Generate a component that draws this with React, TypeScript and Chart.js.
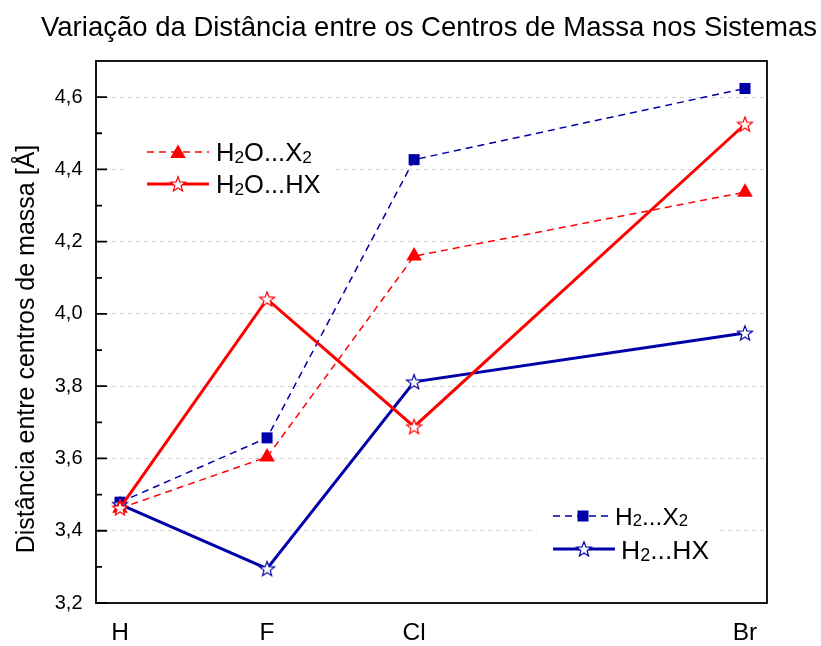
import { useEffect, useRef } from 'react';
import { Chart, registerables } from 'chart.js';

Chart.register(...registerables);

// Halogen (X) of each system and its atomic number, used as the x position
const elements = ['H', 'F', 'Cl', 'Br'];
const atomicNumbers = [1, 9, 17, 35];

// Centre-of-mass distances [Å]
const h2oX2 = [3.462, 3.604, 4.16, 4.337];
const h2oHX = [3.463, 4.041, 3.688, 4.525];
const h2X2 = [3.479, 3.657, 4.427, 4.624];
const h2HX = [3.473, 3.295, 3.812, 3.947];

const yMajorTicks = [3.2, 3.4, 3.6, 3.8, 4.0, 4.2, 4.4, 4.6];
const yMinorTicks = [3.3, 3.5, 3.7, 3.9, 4.1, 4.3, 4.5];

// Legend labels as [text, isSubscript] runs
const legendH2OX2: [string, boolean][] = [['H', false], ['2', true], ['O...X', false], ['2', true]];
const legendH2OHX: [string, boolean][] = [['H', false], ['2', true], ['O...HX', false]];
const legendH2X2: [string, boolean][] = [['H', false], ['2', true], ['...X', false], ['2', true]];
const legendH2HX: [string, boolean][] = [['H', false], ['2', true], ['...HX', false]];

const titleText = 'Variação da Distância entre os Centros de Massa nos Sistemas';
const yTitleText = 'Distância entre centros de massa [Å]';

const RED = '#ff0000';
const BLUE = '#0000a8';
const FONT = '"Liberation Sans", Arial, Helvetica, sans-serif';

function makeStar(color: string): HTMLCanvasElement {
  const c = document.createElement('canvas');
  c.width = 20;
  c.height = 20;
  const g = c.getContext('2d')!;
  const R = 7.8;
  const r = R * 0.42;
  g.beginPath();
  for (let i = 0; i < 10; i++) {
    const a = -Math.PI / 2 + (i * Math.PI) / 5;
    const rr = i % 2 ? r : R;
    g.lineTo(10 + rr * Math.cos(a), 10.6 + rr * Math.sin(a));
  }
  g.closePath();
  g.fillStyle = '#ffffff';
  g.fill();
  g.strokeStyle = color;
  g.lineWidth = 1.2;
  g.stroke();
  return c;
}

function drawRich(ctx: CanvasRenderingContext2D, x: number, y: number, runs: [string, boolean][], size: number) {
  let cx = x;
  ctx.textAlign = 'left';
  ctx.textBaseline = 'alphabetic';
  for (const [t, sub] of runs) {
    const fs = sub ? size * 0.68 : size;
    ctx.font = `${fs}px ${FONT}`;
    ctx.fillText(t, cx, sub ? y + size * 0.08 : y);
    cx += ctx.measureText(t).width;
  }
}

export default function App() {
  const ref = useRef<HTMLCanvasElement | null>(null);

  useEffect(() => {
    const canvas = ref.current;
    if (!canvas) return;
    const redStar = makeStar(RED);
    const blueStar = makeStar(BLUE);

    const toPoints = (ys: number[]) => atomicNumbers.map((x, i) => ({ x, y: ys[i] }));

    const sample = (
      ctx: CanvasRenderingContext2D,
      x0: number,
      x1: number,
      y: number,
      color: string,
      dashed: boolean,
      marker: 'triangle' | 'rect' | HTMLCanvasElement,
    ) => {
      ctx.save();
      ctx.strokeStyle = color;
      ctx.lineWidth = dashed ? 1.5 : 3;
      ctx.setLineDash(dashed ? [7, 5] : []);
      ctx.beginPath();
      ctx.moveTo(x0, y);
      ctx.lineTo(x1, y);
      ctx.stroke();
      ctx.setLineDash([]);
      const cx = (x0 + x1) / 2;
      ctx.fillStyle = color;
      if (marker === 'triangle') {
        const r = 9;
        ctx.beginPath();
        ctx.moveTo(cx, y - r + 1.5);
        ctx.lineTo(cx + r * 0.866, y + r / 2 + 1.5);
        ctx.lineTo(cx - r * 0.866, y + r / 2 + 1.5);
        ctx.closePath();
        ctx.fill();
      } else if (marker === 'rect') {
        ctx.fillRect(cx - 5.5, y - 5.5, 11, 11);
      } else {
        ctx.drawImage(marker, cx - 10, y - 10);
      }
      ctx.restore();
    };

    const decor = {
      id: 'decor',
      afterDatasetsDraw(chart: Chart) {
        const ctx = chart.ctx;
        const { left, right, top, bottom } = chart.chartArea;
        const yScale = chart.scales.y;

        // legend backgrounds
        ctx.save();
        ctx.fillStyle = '#ffffff';
        ctx.fillRect(128, 134, 205, 66);
        ctx.fillRect(537, 500, 183, 66);
        ctx.restore();

        // frame
        ctx.save();
        ctx.strokeStyle = '#000';
        ctx.lineWidth = 1.8;
        ctx.strokeRect(left, top, right - left, bottom - top);

        // inward ticks on the left axis
        ctx.lineWidth = 1.8;
        ctx.beginPath();
        for (const v of yMajorTicks) {
          const y = yScale.getPixelForValue(v);
          ctx.moveTo(left, y);
          ctx.lineTo(left + 11, y);
        }
        for (const v of yMinorTicks) {
          const y = yScale.getPixelForValue(v);
          ctx.moveTo(left, y);
          ctx.lineTo(left + 6, y);
        }
        ctx.stroke();
        ctx.restore();

        // legends
        ctx.save();
        ctx.fillStyle = '#000';
        sample(ctx, 147, 209, 152, RED, true, 'triangle');
        drawRich(ctx, 216, 161, legendH2OX2, 25.5);
        sample(ctx, 147, 209, 184, RED, false, redStar);
        drawRich(ctx, 216, 193, legendH2OHX, 25.5);
        sample(ctx, 553, 613, 516, BLUE, true, 'rect');
        drawRich(ctx, 615, 524.5, legendH2X2, 24.5);
        sample(ctx, 553, 615, 549, BLUE, false, blueStar);
        drawRich(ctx, 621, 558.5, legendH2HX, 26.5);
        ctx.restore();
      },
      afterDraw(chart: Chart) {
        const ctx = chart.ctx;
        ctx.save();
        ctx.fillStyle = '#000';
        ctx.font = `27.5px ${FONT}`;
        ctx.textAlign = 'center';
        ctx.textBaseline = 'alphabetic';
        ctx.fillText(titleText, 429, 36);

        ctx.translate(34, 349);
        ctx.rotate(-Math.PI / 2);
        ctx.font = `25px ${FONT}`;
        ctx.fillText(yTitleText, 0, 0);
        ctx.restore();
      },
    };

    const chart = new Chart(canvas, {
      type: 'line',
      data: {
        datasets: [
          {
            label: 'H2O...HX',
            data: toPoints(h2oHX),
            borderColor: RED,
            borderWidth: 3,
            pointStyle: redStar,
            pointRadius: 8,
          },
          {
            label: 'H2O...X2',
            data: toPoints(h2oX2),
            borderColor: RED,
            backgroundColor: RED,
            borderWidth: 1.5,
            borderDash: [7, 5],
            pointStyle: 'triangle',
            pointRadius: 9,
            pointBorderWidth: 0,
            pointBackgroundColor: RED,
          },
          {
            label: 'H2...HX',
            data: toPoints(h2HX),
            borderColor: BLUE,
            borderWidth: 3,
            pointStyle: blueStar,
            pointRadius: 8,
          },
          {
            label: 'H2...X2',
            data: toPoints(h2X2),
            borderColor: BLUE,
            backgroundColor: BLUE,
            borderWidth: 1.5,
            borderDash: [7, 5],
            pointStyle: 'rect',
            pointRadius: 7.8,
            pointBorderWidth: 0,
            pointBackgroundColor: BLUE,
          },
        ],
      },
      options: {
        animation: false,
        responsive: false,
        layout: { padding: { top: 61, right: 54, left: 0, bottom: 0 }, autoPadding: false },
        plugins: {
          legend: { display: false },
          title: { display: false },
          tooltip: { enabled: false },
        },
        scales: {
          x: {
            type: 'linear',
            min: -0.306,
            max: 36.197,
            afterBuildTicks: (s: any) => {
              s.ticks = atomicNumbers.map((v) => ({ value: v }));
            },
            afterFit: (s: any) => {
              s.height = 43;
            },
            ticks: {
              autoSkip: false,
              maxRotation: 0,
              padding: 16,
              color: '#000',
              font: { size: 24.5, family: FONT },
              callback: (v: any) => {
                const i = atomicNumbers.indexOf(Number(v));
                return i >= 0 ? elements[i] : '';
              },
            },
            grid: { display: false, drawTicks: false },
            border: { display: false },
          },
          y: {
            min: 3.2,
            max: 4.7,
            afterBuildTicks: (s: any) => {
              s.ticks = yMajorTicks.map((v) => ({ value: v }));
            },
            afterFit: (s: any) => {
              s.width = 96;
            },
            ticks: {
              padding: 13.5,
              color: '#000',
              font: { size: 20, family: FONT },
              callback: (v: any) => Number(v).toFixed(1).replace('.', ','),
            },
            grid: { color: '#d4d4d4', lineWidth: 1, drawTicks: false },
            border: { display: false, dash: [4, 4] },
          },
        },
      },
      plugins: [decor],
    });

    return () => chart.destroy();
  }, []);

  return (
    <div style={{ position: 'fixed', left: 0, top: 0, width: 821, height: 646, background: '#fff' }}>
      <canvas ref={ref} width={821} height={646} />
    </div>
  );
}
